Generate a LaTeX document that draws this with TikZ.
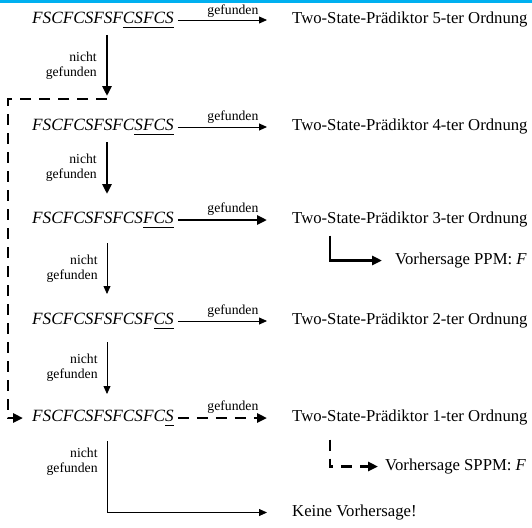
\documentclass[tikz,border=0pt]{standalone}
\usepackage{fontspec}
\setmainfont{Liberation Serif}
\usetikzlibrary{arrows.meta,calc}
\tikzset{>={Triangle[length=8pt,width=7pt]}}
\definecolor{linieblau}{RGB}{0,176,240}
\newcommand{\unterstr}[1]{\underline{\raisebox{0pt}[\height][1.8pt]{#1}}}
\tikzset{
    folge/.style={anchor=west,inner sep=0pt,font=\fontsize{17.2}{19}\selectfont\itshape},
    praed/.style={anchor=west,inner sep=0pt,font=\fontsize{16.7}{19}\selectfont},
    hinweis/.style={inner sep=0pt,align=right,font=\fontsize{13.7}{15}\selectfont},
    duenn/.style={line width=0.8pt,->},
    dick/.style={line width=2.5pt,-{Triangle[length=10pt,width=9pt]}},
    gestrichelt/.style={dick,dash pattern=on 11pt off 8pt},
}

\begin{document}
\begin{tikzpicture}[x=1pt,y=-1pt]
    \useasboundingbox (0,0) rectangle (532,527);
    \draw[linieblau,line width=3pt] (0,1.5) -- (532,1.5);
    \coordinate (mx) at (107,0);
    \coordinate (lx) at (8,0);
    % Folgen
    \node[folge] (s5) at (32,20) {FSCFCSFSF\unterstr{CSFCS}};
    \node[folge] (s4) at (32,127) {FSCFCSFSFC\unterstr{SFCS}};
    \node[folge] (s3) at (32,220) {FSCFCSFSFCS\unterstr{FCS}};
    \node[folge] (s2) at (32,321) {FSCFCSFSFCSF\unterstr{CS}};
    \node[folge] (s1) at (32,418) {FSCFCSFSFCSFC\unterstr{S}};
    % Praediktoren
    \node[praed] (p5) at (292,19.5) {Two-State-Prädiktor 5-ter Ordnung};
    \node[praed] (p4) at (292,126.5) {Two-State-Prädiktor 4-ter Ordnung};
    \node[praed] (p3) at (292,219.5) {Two-State-Prädiktor 3-ter Ordnung};
    \node[praed] (p2) at (292,320.5) {Two-State-Prädiktor 2-ter Ordnung};
    \node[praed] (p1) at (292,417.5) {Two-State-Prädiktor 1-ter Ordnung};
    \node[praed] (v3) at (395,260.5) {Vorhersage PPM: \textit{F}};
    \node[praed] (v1) at (385,466.5) {Vorhersage SPPM: \textit{F}};
    \node[praed] (kv) at (292,512.5) {Keine Vorhersage!};
    % gefunden
    \draw[duenn,shorten <=4pt,shorten >=25pt] (s5.east) -- node[hinweis,above=2pt] {gefunden} (s5.east -| p5.west);
    \draw[duenn,line width=1pt,shorten <=4pt,shorten >=25pt] (s4.east) -- node[hinweis,above=3pt] {gefunden} (s4.east -| p4.west);
    \draw[dick,shorten <=4pt,shorten >=25pt] (s3.east) -- node[hinweis,above=3.5pt] {gefunden} (s3.east -| p3.west);
    \draw[duenn,shorten <=4pt,shorten >=25pt] (s2.east) -- node[hinweis,above=3pt] {gefunden} (s2.east -| p2.west);
    \draw[gestrichelt,shorten <=4pt,shorten >=25pt] (s1.east) -- node[hinweis,above=3.5pt] {gefunden} (s1.east -| p1.west);
    % nicht gefunden
    \draw[dick] ($(s5.center -| mx)+(0,15)$) -- node[hinweis,left=9pt] {nicht\\gefunden} ($(s4.center -| mx)+(0,-31)$);
    \draw[dick] ($(s4.center -| mx)+(0,15)$) -- node[hinweis,left=9pt] {nicht\\gefunden} ($(s3.center -| mx)+(0,-26)$);
    \draw[duenn] ($(s3.center -| mx)+(0,23)$) -- node[hinweis,left=9pt] {nicht\\gefunden} ($(s2.center -| mx)+(0,-27)$);
    \draw[duenn] ($(s2.center -| mx)+(0,21)$) -- node[hinweis,left=9pt] {nicht\\gefunden} ($(s1.center -| mx)+(0,-24)$);
    \draw[duenn,shorten >=25pt] ($(s1.center -| mx)+(0,23)$) -- node[hinweis,left=9pt,pos=0.29] {nicht\\gefunden} (mx |- kv.west) -- (kv.west);
    % Ruecksprung
    \draw[gestrichelt,shorten >=9pt] ($(s4.center -| mx)+(0,-28)$) -| (lx |- s1.west) -- (s1.west);
    % Vorhersagen
    \draw[dick,shorten >=13pt] ($(p3.west)+(38,16)$) |- (v3.west);
    \draw[gestrichelt,shorten >=7pt] ($(p1.west)+(38,22)$) |- (v1.west);
\end{tikzpicture}
\end{document}
